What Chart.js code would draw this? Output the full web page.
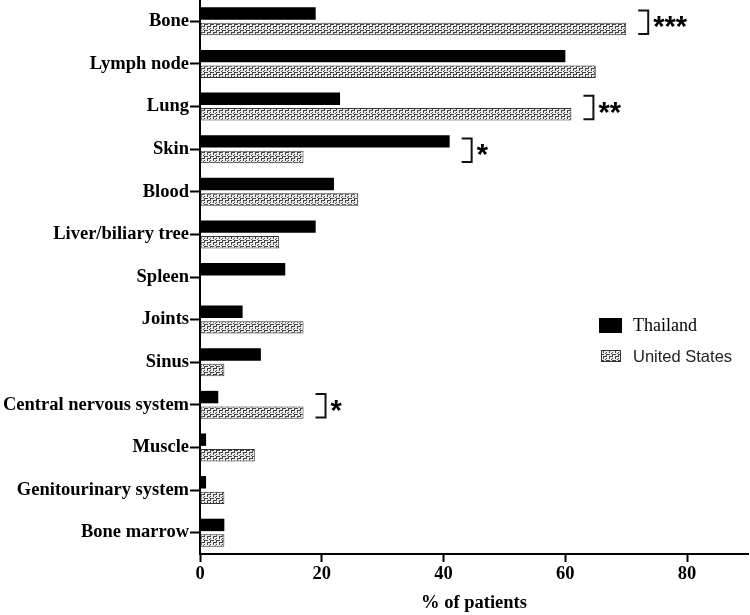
<!DOCTYPE html>
<html>
<head>
<meta charset="utf-8">
<script src="https://cdn.jsdelivr.net/npm/chart.js@4"></script>
<style>
  html, body { margin: 0; padding: 0; background: #fff; }
  #myChart { display: block; }
</style>
</head>
<body>
<canvas id="myChart" width="750" height="615"></canvas>
<script>
const sites = ['Bone', 'Lymph node', 'Lung', 'Skin', 'Blood', 'Liver/biliary tree', 'Spleen',
  'Joints', 'Sinus', 'Central nervous system', 'Muscle', 'Genitourinary system', 'Bone marrow'];
const seriesNames = ['Thailand', 'United States'];
const thailandValues = [19, 60, 23, 41, 22, 19, 14, 7, 10, 3, 1, 1, 4];
const usValues = [70, 65, 61, 17, 26, 13, 0, 17, 4, 17, 9, 4, 4];
const sigMarks = ['***', '', '**', '*', '', '', '', '', '', '*', '', '', ''];
const xTicks = [0, 20, 40, 60, 80];
const xMax = 90;

const serifBold = { family: "'Liberation Serif', 'Times New Roman', serif", size: 18.5, weight: 'bold' };

// hatched fill for the US bars
function makePattern() {
  const tile = document.createElement('canvas');
  tile.width = 6;
  tile.height = 6;
  const t = tile.getContext('2d');
  t.fillStyle = '#ececec';
  t.fillRect(0, 0, 6, 6);
  t.fillStyle = '#444';
  t.fillRect(0, 0, 4, 1);
  t.fillRect(0, 0, 1, 3);
  t.fillRect(3, 2, 3, 1);
  t.fillRect(3, 2, 1, 3);
  t.fillRect(0, 4, 1, 1);
  t.fillRect(5, 5, 1, 1);
  return t.createPattern(tile, 'repeat');
}
const usPattern = makePattern();

// brackets + stars beside the significant pairs
const sigPlugin = {
  id: 'sigPlugin',
  afterDatasetsDraw(chart) {
    const ctx = chart.ctx;
    const m0 = chart.getDatasetMeta(0).data;
    const m1 = chart.getDatasetMeta(1).data;
    ctx.save();
    sigMarks.forEach((mark, i) => {
      if (!mark) return;
      const xEnd = Math.max(m0[i].x, m1[i].x);
      const left = xEnd + 12;
      const right = left + 10;
      const top = m0[i].y - 3;
      const bottom = m1[i].y + 5;
      ctx.strokeStyle = '#111';
      ctx.lineWidth = 2;
      ctx.beginPath();
      ctx.moveTo(left, top);
      ctx.lineTo(right, top);
      ctx.lineTo(right, bottom);
      ctx.lineTo(left, bottom);
      ctx.stroke();

      ctx.font = "bold 29px 'Liberation Sans', Arial, sans-serif";
      ctx.fillStyle = '#000';
      ctx.textAlign = 'left';
      ctx.textBaseline = 'alphabetic';
      const tm = ctx.measureText(mark);
      const mid = (top + bottom) / 2;
      ctx.fillText(mark, right + 5, mid + (tm.actualBoundingBoxAscent - tm.actualBoundingBoxDescent) / 2);
    });
    ctx.restore();
  }
};

// legend inside the plot, right side
const legendPlugin = {
  id: 'legendPlugin',
  afterDraw(chart) {
    const ctx = chart.ctx;
    ctx.save();
    ctx.fillStyle = '#000';
    ctx.fillRect(599, 318, 23, 15);
    ctx.fillStyle = usPattern;
    ctx.fillRect(601, 350, 20, 12);
    ctx.strokeStyle = '#333';
    ctx.lineWidth = 1;
    ctx.strokeRect(601.5, 350.5, 19, 11);

    ctx.fillStyle = '#000';
    ctx.textAlign = 'left';
    ctx.textBaseline = 'middle';
    ctx.font = "18px 'Liberation Serif', 'Times New Roman', serif";
    ctx.fillText(seriesNames[0], 633, 326);
    ctx.fillStyle = '#222';
    ctx.font = "16.5px 'Liberation Sans', Arial, sans-serif";
    ctx.fillText(seriesNames[1], 633, 357);
    ctx.restore();
  }
};

new Chart(document.getElementById('myChart'), {
  type: 'bar',
  data: {
    labels: sites,
    datasets: [
      {
        label: seriesNames[0],
        data: thailandValues,
        backgroundColor: '#000',
        borderWidth: 0,
        categoryPercentage: 0.73,
        barPercentage: 0.8,
      },
      {
        label: seriesNames[1],
        data: usValues,
        backgroundColor: usPattern,
        borderColor: '#333',
        borderWidth: 1,
        borderSkipped: false,
        categoryPercentage: 0.73,
        barPercentage: 0.8,
      },
    ],
  },
  options: {
    indexAxis: 'y',
    responsive: false,
    animation: false,
    devicePixelRatio: 1,
    layout: { padding: { top: 0, right: 2, left: 0, bottom: 0 } },
    plugins: {
      legend: { display: false },
      tooltip: { enabled: false },
    },
    scales: {
      x: {
        type: 'linear',
        min: 0,
        max: xMax,
        afterBuildTicks: s => { s.ticks = xTicks.map(v => ({ value: v })); },
        afterFit: s => { s.height = 61; },
        border: { display: true, color: '#000', width: 2 },
        grid: { drawOnChartArea: false, drawTicks: true, tickLength: 8, tickWidth: 2, tickColor: '#000' },
        ticks: { color: '#000', font: serifBold, padding: 1, maxRotation: 0 },
        title: {
          display: true,
          text: '% of patients',
          color: '#000',
          font: serifBold,
          padding: { top: 0, bottom: 1 },
        },
      },
      y: {
        afterFit: s => { s.width = 200; s.paddingTop = 0; s.paddingBottom = 0; },
        border: { display: true, color: '#000', width: 2 },
        grid: { offset: false, drawOnChartArea: false, drawTicks: true, tickLength: 10, tickWidth: 2, tickColor: '#000' },
        ticks: { color: '#000', font: serifBold, padding: 1, autoSkip: false },
      },
    },
  },
  plugins: [sigPlugin, legendPlugin],
});
</script>
</body>
</html>
